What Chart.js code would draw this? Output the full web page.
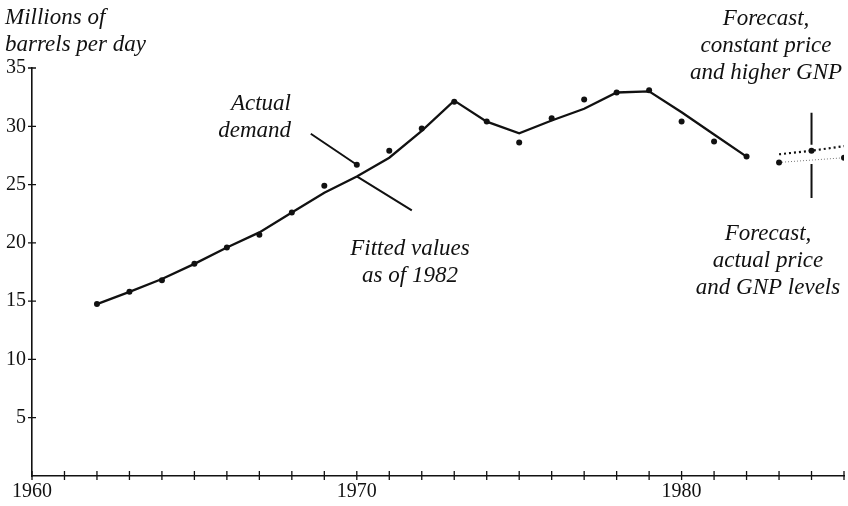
<!DOCTYPE html>
<html>
<head>
<meta charset="utf-8">
<script src="https://cdn.jsdelivr.net/npm/chart.js@4"></script>
<style>
    html, body { margin: 0; padding: 0; background: #fff; }
    #wrap { width: 848px; height: 506px; position: relative; }
</style>
</head>
<body>
<div id="wrap"><canvas id="oilChart"></canvas></div>
<script>
// world oil demand, millions of barrels per day
var years = [1962, 1963, 1964, 1965, 1966, 1967, 1968, 1969, 1970, 1971, 1972,
    1973, 1974, 1975, 1976, 1977, 1978, 1979, 1980, 1981, 1982];
var actualDemand = [14.75, 15.8, 16.8, 18.2, 19.6, 20.7, 22.6, 24.9, 26.7, 27.9, 29.8,
    32.1, 30.4, 28.6, 30.7, 32.3, 32.9, 33.1, 30.4, 28.7, 27.4];
var fittedValues = [14.75, 15.8, 16.9, 18.2, 19.6, 20.9, 22.6, 24.3, 25.7, 27.3, 29.6,
    32.2, 30.4, 29.4, 30.5, 31.5, 32.9, 33.0, 31.2, 29.3, 27.4];
var forecastYears = [1983, 1984, 1985];
var forecastHigherGnp = [27.6, 27.9, 28.3];
var forecastActualGnp = [26.9, 27.1, 27.3];
var yTickValues = [5, 10, 15, 20, 25, 30, 35];
var xTickLabels = [1960, 1970, 1980];

var serif = '"Liberation Serif", "DejaVu Serif", serif';

function pairs(xs, ys) {
    return xs.map(function (x, i) { return { x: x, y: ys[i] }; });
}

// tick marks that cross the axis line, like the printed figure
var crossTicks = {
    id: 'crossTicks',
    afterDraw: function (chart) {
        var ctx = chart.ctx;
        var xs = chart.scales.x, ys = chart.scales.y;
        ctx.save();
        ctx.strokeStyle = '#111';
        ctx.lineWidth = 1.3;
        ctx.beginPath();
        xs.ticks.forEach(function (t) {
            var px = xs.getPixelForValue(t.value);
            ctx.moveTo(px, ys.bottom - 5);
            ctx.lineTo(px, ys.bottom + 4);
        });
        ys.ticks.forEach(function (t) {
            if (t.value === 0) return;
            var py = ys.getPixelForValue(t.value);
            ctx.moveTo(xs.left - 4, py);
            ctx.lineTo(xs.left + 4, py);
        });
        ctx.stroke();
        ctx.restore();
    }
};

var notes = {
    id: 'notes',
    afterDraw: function (chart) {
        var ctx = chart.ctx;
        var xs = chart.scales.x, ys = chart.scales.y;
        ctx.save();
        ctx.fillStyle = '#111';
        ctx.strokeStyle = '#111';
        ctx.font = 'italic 23px ' + serif;
        ctx.textBaseline = 'alphabetic';

        ctx.textAlign = 'left';
        ctx.fillText('Millions of', 5, 24);
        ctx.fillText('barrels per day', 5, 51);

        ctx.textAlign = 'right';
        ctx.fillText('Actual', 291, 110);
        ctx.fillText('demand', 291, 137);

        ctx.textAlign = 'center';
        ctx.fillText('Fitted values', 410, 255);
        ctx.fillText('as of 1982', 410, 282);

        ctx.fillText('Forecast,', 766, 25);
        ctx.fillText('constant price', 766, 52);
        ctx.fillText('and higher GNP', 766, 79);

        ctx.fillText('Forecast,', 768, 240);
        ctx.fillText('actual price', 768, 267);
        ctx.fillText('and GNP levels', 768, 294);

        // leader lines
        var i70 = years.indexOf(1970);
        var ax = xs.getPixelForValue(1970), ay = ys.getPixelForValue(actualDemand[i70]);
        var fy = ys.getPixelForValue(fittedValues[i70]);
        ctx.lineWidth = 2;
        ctx.beginPath();
        ctx.moveTo(ax - 46, ay - 31);
        ctx.lineTo(ax, ay);
        ctx.moveTo(ax, fy);
        ctx.lineTo(ax + 55, fy + 34);
        var lx = xs.getPixelForValue(1984);
        var uy = ys.getPixelForValue(forecastHigherGnp[1]);
        var ly = ys.getPixelForValue(forecastActualGnp[1]);
        ctx.moveTo(lx, uy - 6);
        ctx.lineTo(lx, uy - 38);
        ctx.moveTo(lx, ly + 4);
        ctx.lineTo(lx, ly + 38);
        ctx.stroke();
        ctx.restore();
    }
};

new Chart(document.getElementById('oilChart'), {
    type: 'scatter',
    data: {
        datasets: [{
            label: 'Fitted values as of 1982',
            data: pairs(years, fittedValues),
            showLine: true,
            borderColor: '#111',
            borderWidth: 2.3,
            pointRadius: 0,
            tension: 0
        }, {
            label: 'Actual demand',
            data: pairs(years, actualDemand),
            showLine: false,
            pointStyle: 'circle',
            pointRadius: 3,
            backgroundColor: '#111',
            borderColor: '#111',
            borderWidth: 0
        }, {
            label: 'Forecast, constant price and higher GNP',
            data: pairs(forecastYears, forecastHigherGnp),
            showLine: true,
            borderColor: '#111',
            borderWidth: 2.2,
            borderDash: [2, 3],
            pointRadius: [0, 3, 0],
            backgroundColor: '#111',
            pointBorderWidth: 0
        }, {
            label: 'Forecast, actual price and GNP levels',
            data: pairs(forecastYears, forecastActualGnp),
            showLine: true,
            borderColor: '#777',
            borderWidth: 1,
            borderDash: [1, 2],
            pointRadius: [3, 0, 3],
            backgroundColor: '#111',
            pointBorderWidth: 0
        }]
    },
    options: {
        responsive: true,
        maintainAspectRatio: false,
        animation: false,
        layout: { padding: { top: 68, right: 3, left: 0, bottom: 0 } },
        plugins: {
            legend: { display: false },
            tooltip: { enabled: false }
        },
        scales: {
            x: {
                type: 'linear',
                min: 1960,
                max: 1985,
                afterFit: function (s) { s.height = 30; },
                afterBuildTicks: function (s) {
                    var t = [];
                    for (var v = 1960; v <= 1985; v++) t.push({ value: v });
                    s.ticks = t;
                },
                ticks: {
                    autoSkip: false,
                    maxRotation: 0,
                    padding: 4,
                    color: '#111',
                    font: { family: serif, size: 20 },
                    callback: function (v) {
                        return xTickLabels.indexOf(v) >= 0 ? String(v) : '';
                    }
                },
                grid: { display: true, drawOnChartArea: false, drawTicks: false },
                border: { color: '#111', width: 1.6 }
            },
            y: {
                min: 0,
                max: 35,
                afterFit: function (s) { s.width = 32; },
                afterBuildTicks: function (s) {
                    s.ticks = [{ value: 0 }].concat(yTickValues.map(function (v) { return { value: v }; }));
                },
                ticks: {
                    padding: 6,
                    color: '#111',
                    font: { family: serif, size: 20 },
                    callback: function (v) { return v === 0 ? '' : String(v); }
                },
                grid: { display: true, drawOnChartArea: false, drawTicks: false },
                border: { color: '#111', width: 1.6 }
            }
        }
    },
    plugins: [crossTicks, notes]
});
</script>
</body>
</html>
